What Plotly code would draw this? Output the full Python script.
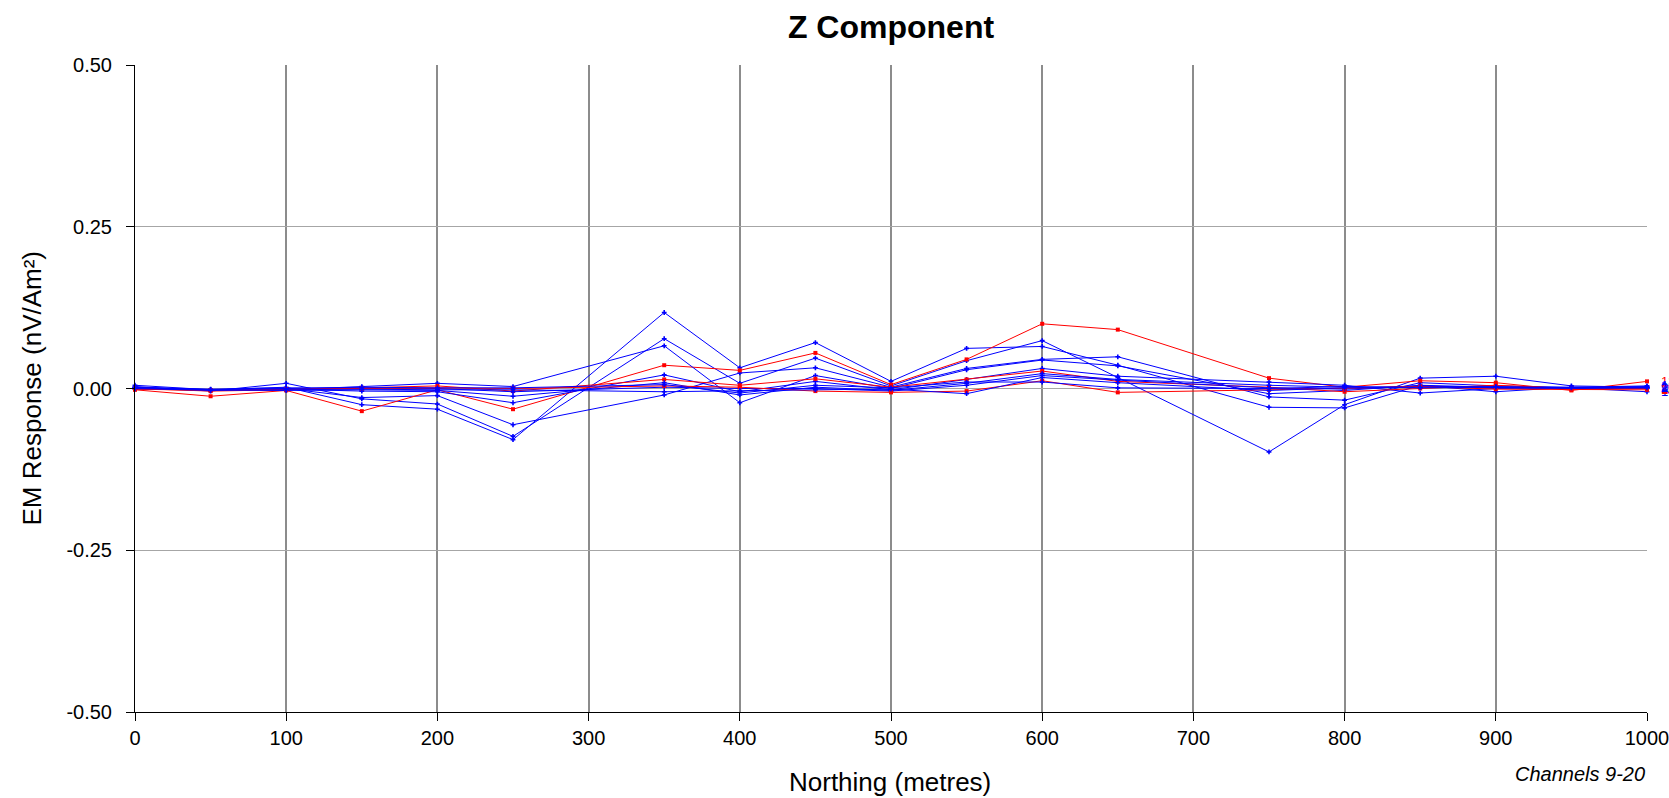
import plotly.graph_objects as go

northing = [0, 50, 100, 150, 200, 250, 350, 400, 450, 500, 550, 600, 650, 750, 800, 850, 900, 950, 1000]

ch09 = [0.005, -0.002, 0.002, -0.025, -0.032, -0.079, 0.1175, 0.032, 0.071, 0.011, 0.062, 0.065, 0.036, -0.029, -0.030, 0.005, 0.002, 0.000, 0.001]
ch10 = [0.003, -0.004, 0.008, -0.016, -0.024, -0.074, 0.077, 0.008, 0.047, 0.004, 0.043, 0.074, 0.017, -0.098, -0.025, 0.016, 0.019, 0.004, 0.002]
ch11 = [0.001, -0.003, 0.000, -0.014, -0.011, -0.056, -0.010, 0.024, 0.032, 0.002, 0.031, 0.045, 0.049, -0.013, -0.018, 0.009, 0.004, 0.002, 0.000]
ch12 = [-0.002, -0.012, -0.003, -0.035, -0.002, -0.032, 0.036, 0.028, 0.055, 0.006, 0.045, 0.100, 0.091, 0.016, 0.002, 0.012, 0.009, -0.003, 0.011]
ch13 = [0.000, -0.002, -0.002, 0.003, 0.008, 0.003, 0.066, -0.022, 0.020, 0.000, 0.029, 0.044, 0.035, -0.008, -0.003, 0.005, -0.005, 0.002, 0.004]
ch14 = [0.002, -0.003, -0.001, -0.004, -0.005, -0.022, 0.021, -0.005, 0.011, -0.002, 0.014, 0.031, 0.019, 0.010, 0.005, -0.007, 0.000, 0.001, -0.005]
ch15 = [0.000, -0.004, -0.002, 0.001, 0.004, -0.004, 0.014, 0.005, 0.015, 0.002, 0.014, 0.027, 0.011, 0.002, -0.005, 0.000, 0.005, 0.000, 0.000]
ch16 = [-0.001, -0.002, -0.003, -0.002, -0.003, -0.012, 0.009, -0.010, 0.002, -0.003, 0.008, 0.023, 0.014, 0.005, 0.002, 0.003, 0.002, 0.000, 0.001]
ch17 = [0.002, -0.001, 0.001, 0.001, 0.000, -0.005, 0.002, 0.000, 0.000, -0.004, 0.005, 0.020, 0.013, 0.001, -0.001, 0.004, 0.001, 0.001, 0.002]
ch18 = [-0.001, -0.003, -0.001, 0.000, 0.001, 0.000, 0.004, 0.002, -0.004, -0.006, -0.004, 0.012, -0.006, -0.002, 0.000, 0.003, -0.001, -0.002, -0.002]
ch19 = [0.000, -0.003, -0.002, -0.001, -0.002, -0.002, -0.005, -0.003, -0.002, -0.001, -0.008, 0.017, 0.009, -0.003, 0.001, 0.002, 0.003, 0.001, 0.003]
ch20 = [0.001, -0.002, 0.000, 0.002, 0.001, 0.001, 0.006, -0.007, 0.005, 0.001, 0.010, 0.010, 0.001, 0.000, 0.003, 0.001, 0.002, 0.002, 0.001]

channel_names = ["9", "10", "11", "12", "13", "14", "15", "16", "17", "18", "19", "20"]
channel_values = [ch09, ch10, ch11, ch12, ch13, ch14, ch15, ch16, ch17, ch18, ch19, ch20]
channel_colors = ["#0000FF", "#0000FF", "#0000FF", "#FF0000", "#0000FF", "#0000FF",
                  "#FF0000", "#0000FF", "#0000FF", "#FF0000", "#0000FF", "#0000FF"]

x_ticks = [0, 100, 200, 300, 400, 500, 600, 700, 800, 900, 1000]
y_ticks = [-0.50, -0.25, 0.00, 0.25, 0.50]
y_tick_labels = ["-0.50", "-0.25", "0.00", "0.25", "0.50"]

FONT = "Liberation Sans, Arial, sans-serif"

fig = go.Figure()
for name, vals, col in zip(channel_names, channel_values, channel_colors):
    sym = "square" if col == "#FF0000" else "cross"
    fig.add_trace(go.Scatter(
        x=northing, y=vals, mode="lines+markers", name=name,
        line=dict(color=col, width=1),
        marker=dict(color=col, size=4, symbol=sym, line=dict(width=0)),
        showlegend=False, cliponaxis=False,
    ))
    fig.add_annotation(x=northing[-1], y=vals[-1], xref="x", yref="y",
                       text=name, showarrow=False, xanchor="left", yanchor="middle",
                       xshift=12, font=dict(family=FONT, size=13, color=col))

fig.update_layout(
    width=1669, height=798,
    margin=dict(l=135, r=22, t=65, b=86, pad=0, autoexpand=False),
    paper_bgcolor="white", plot_bgcolor="white",
    font=dict(family=FONT, color="black"),
    title=dict(text="<b>Z Component</b>", x=(135 + 1647) / 2 / 1669, xanchor="center",
               y=1 - 26.6 / 798, yanchor="middle", yref="container",
               font=dict(family=FONT, size=32, color="black")),
)

fig.update_xaxes(
    range=[0, 1000], tickvals=x_ticks, ticktext=[str(v) for v in x_ticks],
    showgrid=True, gridcolor="#8C8C8C", gridwidth=1.5,
    zeroline=False, showline=True, linecolor="black", linewidth=1,
    ticks="outside", ticklen=8, tickcolor="black", tickwidth=1,
    ticklabeloverflow="allow", automargin=False,
    tickfont=dict(family=FONT, size=20, color="black"),
)
fig.update_yaxes(
    range=[-0.5, 0.5], tickvals=y_ticks, ticktext=y_tick_labels,
    showgrid=True, gridcolor="#A6A6A6", gridwidth=1,
    zeroline=False, showline=True, linecolor="black", linewidth=1,
    ticks="outside", ticklen=8, tickcolor="black", tickwidth=1,
    ticklabelstandoff=10, ticklabeloverflow="allow", automargin=False,
    tickfont=dict(family=FONT, size=20, color="black"),
)

fig.add_annotation(text="EM Response (nV/Am²)", xref="paper", yref="paper",
                   x=(31 - 135) / 1512, y=0.5, xanchor="center", yanchor="middle",
                   textangle=-90, showarrow=False,
                   font=dict(family=FONT, size=26, color="black"))
fig.add_annotation(text="Northing (metres)", xref="paper", yref="paper",
                   x=(890 - 135) / 1512, y=(711.7 - 782) / 646.7,
                   xanchor="center", yanchor="middle", showarrow=False,
                   font=dict(family=FONT, size=26, color="black"))
fig.add_annotation(text="<i>Channels 9-20</i>", xref="paper", yref="paper",
                   x=1.0, y=(711.7 - 774) / 646.7,
                   xanchor="right", yanchor="middle", showarrow=False,
                   font=dict(family=FONT, size=20, color="black"))

fig.write_html("out.html")
